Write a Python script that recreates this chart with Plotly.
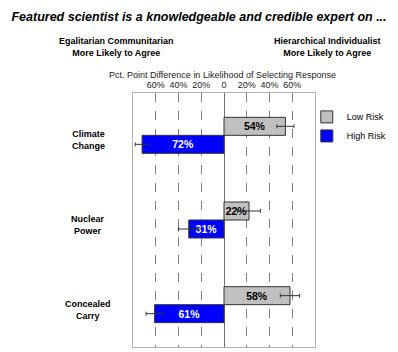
import plotly.graph_objects as go

categories = ["Climate Change", "Nuclear Power", "Concealed Carry"]
category_labels = ["Climate<br>Change", "Nuclear<br>Power", "Concealed<br>Carry"]
low_risk = [54, 22, 58]
low_risk_err = [7.5, 10, 8.5]
high_risk = [-72, -31, -61]
high_risk_err = [6, 9, 7.5]
tick_vals = [-60, -40, -20, 0, 20, 40, 60]
tick_text = ["60%", "40%", "20%", "0", "20%", "40%", "60%"]

FONT = "Liberation Sans, Arial, sans-serif"

fig = go.Figure()
fig.add_trace(go.Bar(
    name="Low Risk", y=categories, x=low_risk, orientation="h",
    marker=dict(color="#C0C0C0", line=dict(color="#333333", width=1)),
    text=[f"{abs(v)}%" for v in low_risk], textposition="inside",
    insidetextanchor="middle", textangle=0, constraintext="none",
    textfont=dict(family=FONT, size=10.5, color="#000000", weight="bold"),
    error_x=dict(type="data", array=low_risk_err, color="#333333", thickness=1, width=2),
))
fig.add_trace(go.Bar(
    name="High Risk", y=categories, x=high_risk, orientation="h",
    marker=dict(color="#0000FF", line=dict(color="#333333", width=1)),
    text=[f"{abs(v)}%" for v in high_risk], textposition="inside",
    insidetextanchor="middle", textangle=0, constraintext="none",
    textfont=dict(family=FONT, size=10.5, color="#FFFFFF", weight="bold"),
    error_x=dict(type="data", array=high_risk_err, color="#333333", thickness=1, width=2),
))

annotations = []
for cat, lab in zip(categories, category_labels):
    annotations.append(dict(
        x=-0.247, xref="paper", y=cat, yref="y", text=lab, showarrow=False,
        xanchor="center", yanchor="middle", align="center", yshift=-5,
        font=dict(family=FONT, size=9, color="#000000", weight="bold"),
    ))
annotations += [
    dict(x=-0.088, xref="paper", y=1.183, yref="paper",
         text="Egalitarian Communitarian<br>More Likely to Agree", showarrow=False,
         xanchor="center", yanchor="middle", align="center",
         font=dict(family=FONT, size=9, color="#000000", weight="bold")),
    dict(x=1.071, xref="paper", y=1.183, yref="paper",
         text="Hierarchical Individualist<br>More Likely to Agree", showarrow=False,
         xanchor="center", yanchor="middle", align="center",
         font=dict(family=FONT, size=9, color="#000000", weight="bold")),
    dict(x=0.492, xref="paper", y=1.071, yref="paper",
         text="Pct. Point Difference in Likelihood of Selecting Response", showarrow=False,
         xanchor="center", yanchor="middle",
         font=dict(family=FONT, size=9, color="#222222")),
]

fig.update_layout(
    width=398, height=352,
    margin=dict(l=133, r=83, t=93, b=5, autoexpand=False),
    paper_bgcolor="white", plot_bgcolor="white",
    barmode="group", bargap=0.575, bargroupgap=0,
    title=dict(text="<b><i>Featured scientist is a knowledgeable and credible expert on ...</i></b>",
               x=0.5, xref="container", xanchor="center", y=1 - 17 / 352, yanchor="middle",
               font=dict(family=FONT, size=12.5, color="#000000")),
    showlegend=True,
    legend=dict(x=0.955, xanchor="left", y=0.963, yanchor="top",
                font=dict(family=FONT, size=9, color="#000000"),
                bgcolor="rgba(0,0,0,0)", tracegroupgap=0, itemwidth=30),
    annotations=annotations,
    xaxis=dict(range=[-80, 80], side="top", tickvals=tick_vals, ticktext=tick_text,
               tickfont=dict(family=FONT, size=9, color="#222222"), ticks="",
               showgrid=True, gridcolor="#808080", griddash="dash", gridwidth=1,
               zeroline=True, zerolinecolor="#707070", zerolinewidth=1,
               showline=True, linecolor="#B0B0B0", linewidth=1, mirror=True),
    yaxis=dict(autorange="reversed", showticklabels=False, ticks="",
               showline=True, linecolor="#B0B0B0", linewidth=1, mirror=True,
               showgrid=False),
)

fig.write_html("out.html")
